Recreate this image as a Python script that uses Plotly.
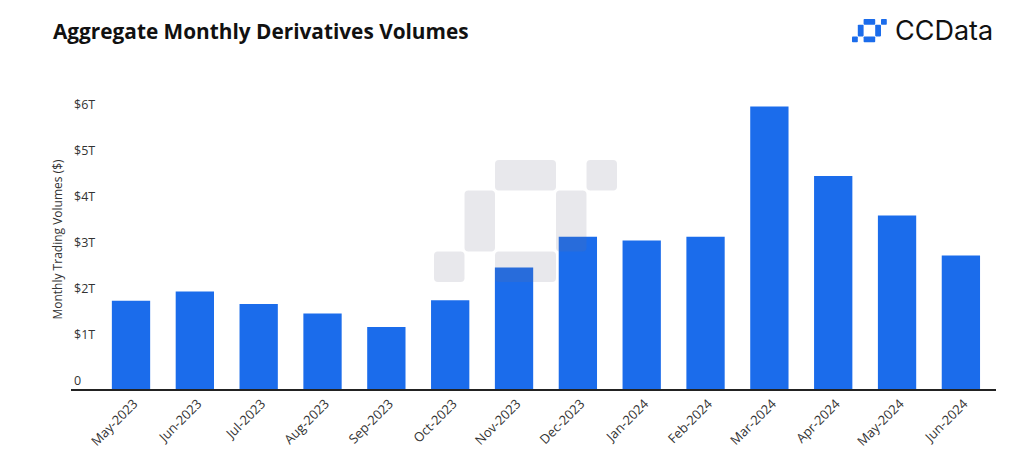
import plotly.graph_objects as go

months = ["May-2023", "Jun-2023", "Jul-2023", "Aug-2023", "Sep-2023", "Oct-2023",
          "Nov-2023", "Dec-2023", "Jan-2024", "Feb-2024", "Mar-2024", "Apr-2024",
          "May-2024", "Jun-2024"]
volumes_trillions = [1.92, 2.12, 1.85, 1.64, 1.35, 1.93, 2.64, 3.31, 3.23, 3.31,
                     6.14, 4.63, 3.77, 2.90]
y_tick_values = [0, 1, 2, 3, 4, 5, 6]
y_tick_labels = ["0", "$1T", "$2T", "$3T", "$4T", "$5T", "$6T"]

W, H = 1024, 459
Y_TOP = 6.5
ML, MR, MB = 71, 28, 70
PH = int(round(Y_TOP * 46))
MT = H - MB - PH
PW = W - ML - MR

def px(x):
    return (x - ML) / PW

def py(y):
    return (H - MB - y) / PH

def rounded_rect(x0, y0, x1, y1, r, color, layer, opacity):
    X0, X1 = px(x0), px(x1)
    Y0, Y1 = py(y0), py(y1)  # y0 top (pixel), y1 bottom
    rx, ry = r / PW, r / PH
    path = (f"M {X0+rx},{Y0} L {X1-rx},{Y0} Q {X1},{Y0} {X1},{Y0-ry} "
            f"L {X1},{Y1+ry} Q {X1},{Y1} {X1-rx},{Y1} "
            f"L {X0+rx},{Y1} Q {X0},{Y1} {X0},{Y1+ry} "
            f"L {X0},{Y0-ry} Q {X0},{Y0} {X0+rx},{Y0} Z")
    return dict(type="path", xref="paper", yref="paper", path=path,
                fillcolor=color, line=dict(width=0), layer=layer, opacity=opacity)

def logo_cells(x0, y0, u, r, color, layer, opacity=1.0):
    cells = [(2, 0, 4, 1), (5, 0, 6, 1), (1, 1, 2, 3), (4, 1, 5, 3), (0, 3, 1, 4), (2, 3, 4, 4)]
    return [rounded_rect(x0 + c0 * u, y0 + r0 * u, x0 + c1 * u, y0 + r1 * u, r, color, layer, opacity)
            for c0, r0, c1, r1 in cells]

fig = go.Figure()
fig.add_trace(go.Bar(
    x=months, y=volumes_trillions, width=0.6,
    marker=dict(color="#1B6CEB", line=dict(width=0)),
    hoverinfo="x+y",
))

shapes = []
shapes += logo_cells(434, 160, 30.5, 4, "rgb(110,110,135)", "above", 0.16)
shapes += logo_cells(852, 19, 5.8, 0.8, "#1B6CEB", "above", 1.0)

FONT = "Open Sans, Noto Sans, sans-serif"

fig.update_layout(
    width=W, height=H,
    margin=dict(l=ML, r=MR, t=MT, b=MB, autoexpand=False),
    paper_bgcolor="white", plot_bgcolor="white",
    font=dict(family=FONT, color="#333333", size=12),
    showlegend=False,
    shapes=shapes,
    xaxis=dict(
        type="category", range=[-0.94, 13.55],
        showline=True, linecolor="#222222", linewidth=2,
        showgrid=False, ticks="", tickangle=-45,
        ticklabelshift=3,
        tickfont=dict(size=13, color="#333333", family=FONT),
        automargin=False, fixedrange=True,
    ),
    yaxis=dict(
        range=[0, Y_TOP], tickvals=y_tick_values, ticktext=y_tick_labels,
        ticklabelposition="inside top", showgrid=False, zeroline=False,
        showline=False, ticks="",
        tickfont=dict(size=12.5, color="#333333", family=FONT),
        title=dict(text="Monthly Trading Volumes ($)", standoff=8,
                   font=dict(size=12, color="#333333", family=FONT)),
        automargin=False, fixedrange=True,
    ),
    annotations=[
        dict(text="<b>Aggregate Monthly Derivatives Volumes</b>", xref="paper", yref="paper",
             x=px(51), y=py(31), xanchor="left", yanchor="middle", showarrow=False,
             font=dict(size=20.8, color="#111111", family=FONT)),
        dict(text="CCData", xref="paper", yref="paper",
             x=px(995), y=py(31), xanchor="right", yanchor="middle", showarrow=False,
             font=dict(size=27, color="#111111", family="Inter, sans-serif")),
    ],
)

fig.write_html("out.html", config={"displayModeBar": False},
               post_script="document.body.style.margin='0';")
